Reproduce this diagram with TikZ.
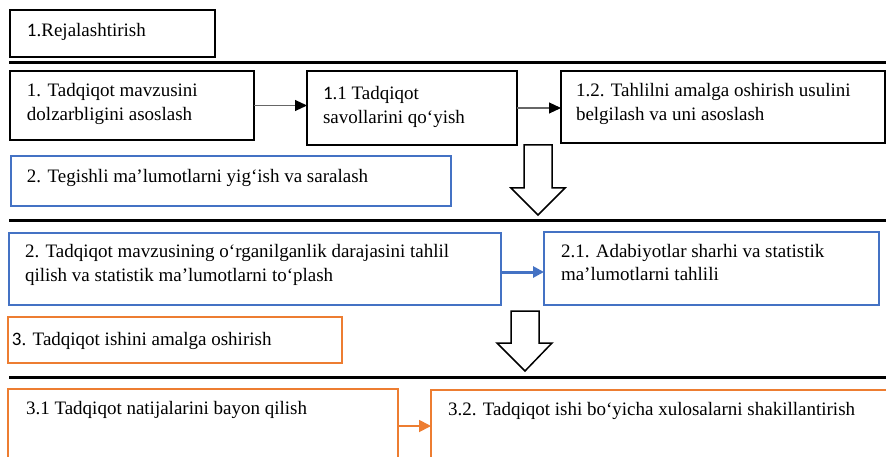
\documentclass[tikz,border=0pt]{standalone}
\usepackage{fontspec}
\setmainfont{Liberation Serif}
\newfontfamily\calib{Carlito}
\usetikzlibrary{arrows.meta}
\definecolor{offblue}{HTML}{4472C4}
\definecolor{offorange}{HTML}{ED7D31}
\newcommand\twoline[2]{\vtop{\baselineskip=24pt\hbox{#1}\hbox{#2}}}
\newcommand\boxnode[6]{%
  \node[#6, anchor=north west, minimum width={#4-#2}, minimum height={#5-#3}] (#1) at (#2,#3) {};}
\tikzset{
  x=1pt, y=-1pt,
  font=\fontsize{19}{24}\selectfont,
  base/.style={rectangle, inner sep=0pt, outer sep=0pt},
  blackbox/.style={base, draw=black, line width=1.8pt},
  bluebox/.style={base, draw=offblue, line width=1.5pt},
  orangebox/.style={base, draw=offorange, line width=1.8pt},
  txt/.style={anchor=base west, inner sep=0pt, outer sep=0pt},
  sep/.style={line width=3pt, black},
  smarr/.style={draw=black!60, line width=1.1pt, -{Triangle[length=12pt,width=11pt,black]}},
  bluearr/.style={draw=offblue, line width=3pt, -{Triangle[length=11pt,width=11pt]}},
  orarr/.style={draw=offorange, line width=1.8pt, -{Triangle[length=12pt,width=12pt]}},
  hollow/.style={draw=black, line width=1.5pt, fill=white, line join=miter},
}
\begin{document}
\begin{tikzpicture}
\useasboundingbox (0,0) rectangle (886,457);
\fill[white] (0,0) rectangle (886,457);

% separators
\coordinate (s1a) at (9,63);  \coordinate (s1b) at (886,63);
\coordinate (s2a) at (9,221); \coordinate (s2b) at (886,221);
\coordinate (s3a) at (9,377); \coordinate (s3b) at (886,377);
\draw[sep] (s1a) -- (s1b);
\draw[sep] (s2a) -- (s2b);
\draw[sep] (s3a) -- (s3b);

% boxes
\boxnode{r}{10}{10}{215}{57}{blackbox}
\boxnode{b1}{10}{71}{254}{140}{blackbox}
\boxnode{b11}{307}{71}{517}{145}{blackbox}
\boxnode{b12}{561}{71}{885}{143}{blackbox}
\boxnode{t2}{11}{156}{451}{206}{bluebox}
\boxnode{b2}{9}{233}{501}{305}{bluebox}
\boxnode{b21}{544}{232}{879}{305}{bluebox}
\boxnode{t3}{8}{317}{342}{363}{orangebox}
\boxnode{b31}{8}{389}{398}{463}{orangebox}
\boxnode{b32}{431}{390}{892}{463}{orangebox}

% texts
\node[txt] (rt) at (27,37) {{\calib 1}.Rejalashtirish};
\node[txt] (b1t) at (27,97) {\twoline{1. Tadqiqot mavzusini}{dolzarbligini asoslash}};
\node[txt] (b11t) at (323,100) {\twoline{{\calib 1}.1 Tadqiqot}{savollarini qo‘yish}};
\node[txt] (b12t) at (576,97) {\twoline{1.2. Tahlilni amalga oshirish usulini}{belgilash va uni asoslash}};
\node[txt] (t2t) at (27,183) {2. Tegishli ma’lumotlarni yig‘ish va saralash};
\node[txt] (b2t) at (25,258) {\twoline{2. Tadqiqot mavzusining o‘rganilganlik darajasini tahlil}{qilish va statistik ma’lumotlarni to‘plash}};
\node[txt] (b21t) at (561,257) {\twoline{2.1. Adabiyotlar sharhi va statistik}{ma’lumotlarni tahlili}};
\node[txt] (t3t) at (12,345) {{\calib 3}. Tadqiqot ishini amalga oshirish};
\node[txt] (b31t) at (26,414) {3.1 Tadqiqot natijalarini bayon qilish};
\node[txt] (b32t) at (448,415) {3.2. Tadqiqot ishi bo‘yicha xulosalarni shakillantirish};

% connectors
\draw[smarr] (b1.east) -- (b11.west |- b1.east);
\draw[smarr] (b11.east) -- (b12.west |- b11.east);
\coordinate (ba) at (501,272);
\draw[bluearr] (ba) -- (b21.west |- ba);
\coordinate (oa) at (398,426);
\draw[orarr] (oa) -- (b32.west |- oa);

% hollow down arrows
\draw[hollow] (524,145) -- (552,145) -- (552,188) -- (565,188) -- (538,215) -- (511,188) -- (524,188) -- cycle;
\draw[hollow] (511,311) -- (539,311) -- (539,343) -- (552,343) -- (525,371) -- (497,343) -- (511,343) -- cycle;
\end{tikzpicture}
\end{document}
